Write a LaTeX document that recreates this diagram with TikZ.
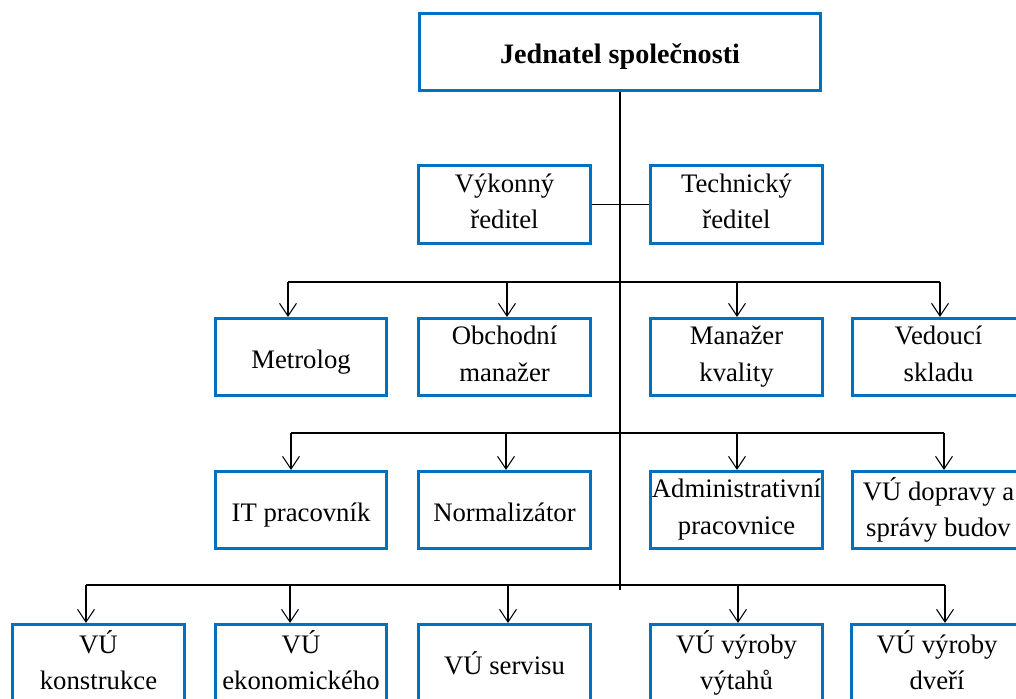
\documentclass[tikz,border=0pt]{standalone}
\usepackage{fontspec}
\setmainfont{Liberation Serif}
\usetikzlibrary{arrows.meta}

\definecolor{orgblue}{RGB}{0,112,192}

\tikzset{
  box/.style={draw=orgblue, line width=2.1pt, minimum width=4.28cm, minimum height=1.93cm,
    align=center, inner sep=1pt, font=\fontsize{19}{26}\selectfont,
    execute at begin node=\rule{0pt}{21pt}, execute at end node=\rule[-4.5pt]{0pt}{1pt}},
  arr/.style={-{Straight Barb[length=9pt,width=12pt]}},
}

\begin{document}
\begin{tikzpicture}[x=0.025cm, y=-0.025cm, line width=0.75pt]

  % Fix the frame
  \useasboundingbox (0,0) rectangle (1016,698);
  \clip (0,0) rectangle (1016,698);

  % Draw top box
  \node[box, minimum width=10.0cm, font=\fontsize{20}{26}\selectfont\bfseries] (jednatel) at (620,52) {Jednatel společnosti};

  % Draw directors
  \node[box] (vykonny) at (504.5,204.5) {Výkonný\\ředitel};
  \node[box] (technicky) at (736.5,204.5) {Technický\\ředitel};

  % Draw second row
  \node[box] (metrolog) at (301,357) {Metrolog};
  \node[box] (obchodni) at (504.5,357) {Obchodní\\manažer};
  \node[box] (kvalita) at (736.5,357) {Manažer\\kvality};
  \node[box] (sklad) at (938.5,357) {Vedoucí\\skladu};

  % Draw third row
  \node[box] (itprac) at (301,510) {IT pracovník};
  \node[box] (normal) at (504.5,510) {Normalizátor};
  \node[box] (admin) at (736.5,510) {Administrativní\\pracovnice};
  \node[box] (doprava) at (938.5,510) {VÚ dopravy a\\správy budov};

  % Draw bottom row
  \node[box] (konstr) at (98.5,663) {VÚ\\konstrukce};
  \node[box] (ekonom) at (301,663) {VÚ\\ekonomického};
  \node[box] (servis) at (504.5,663) {VÚ servisu};
  \node[box] (vytahy) at (736.5,663) {VÚ výroby\\výtahů};
  \node[box] (dvere) at (937,663) {VÚ výroby\\dveří};

  % Bus points
  \coordinate (trunk) at (620,590);
  \coordinate (b2a) at (288,282);
  \coordinate (b2b) at (507,282);
  \coordinate (b2c) at (737,282);
  \coordinate (b2d) at (940,282);
  \coordinate (b3a) at (291,433);
  \coordinate (b3b) at (506,433);
  \coordinate (b3c) at (737,433);
  \coordinate (b3d) at (944,433);
  \coordinate (b4a) at (86,585);
  \coordinate (b4b) at (290,585);
  \coordinate (b4c) at (508,585);
  \coordinate (b4d) at (738,585);
  \coordinate (b4e) at (945,585);

  % Draw trunk and directors link
  \draw (jednatel.south) -- (trunk);
  \draw (vykonny.east) -- (technicky.west);

  % Draw buses
  \draw (b2a) -- (b2d);
  \draw (b3a) -- (b3d);
  \draw (b4a) -- (b4e);

  % Draw arrows
  \draw[arr] (b2a) -- (b2a |- metrolog.north);
  \draw[arr] (b2b) -- (b2b |- obchodni.north);
  \draw[arr] (b2c) -- (b2c |- kvalita.north);
  \draw[arr] (b2d) -- (b2d |- sklad.north);
  \draw[arr] (b3a) -- (b3a |- itprac.north);
  \draw[arr] (b3b) -- (b3b |- normal.north);
  \draw[arr] (b3c) -- (b3c |- admin.north);
  \draw[arr] (b3d) -- (b3d |- doprava.north);
  \draw[arr] (b4a) -- (b4a |- konstr.north);
  \draw[arr] (b4b) -- (b4b |- ekonom.north);
  \draw[arr] (b4c) -- (b4c |- servis.north);
  \draw[arr] (b4d) -- (b4d |- vytahy.north);
  \draw[arr] (b4e) -- (b4e |- dvere.north);

\end{tikzpicture}
\end{document}
